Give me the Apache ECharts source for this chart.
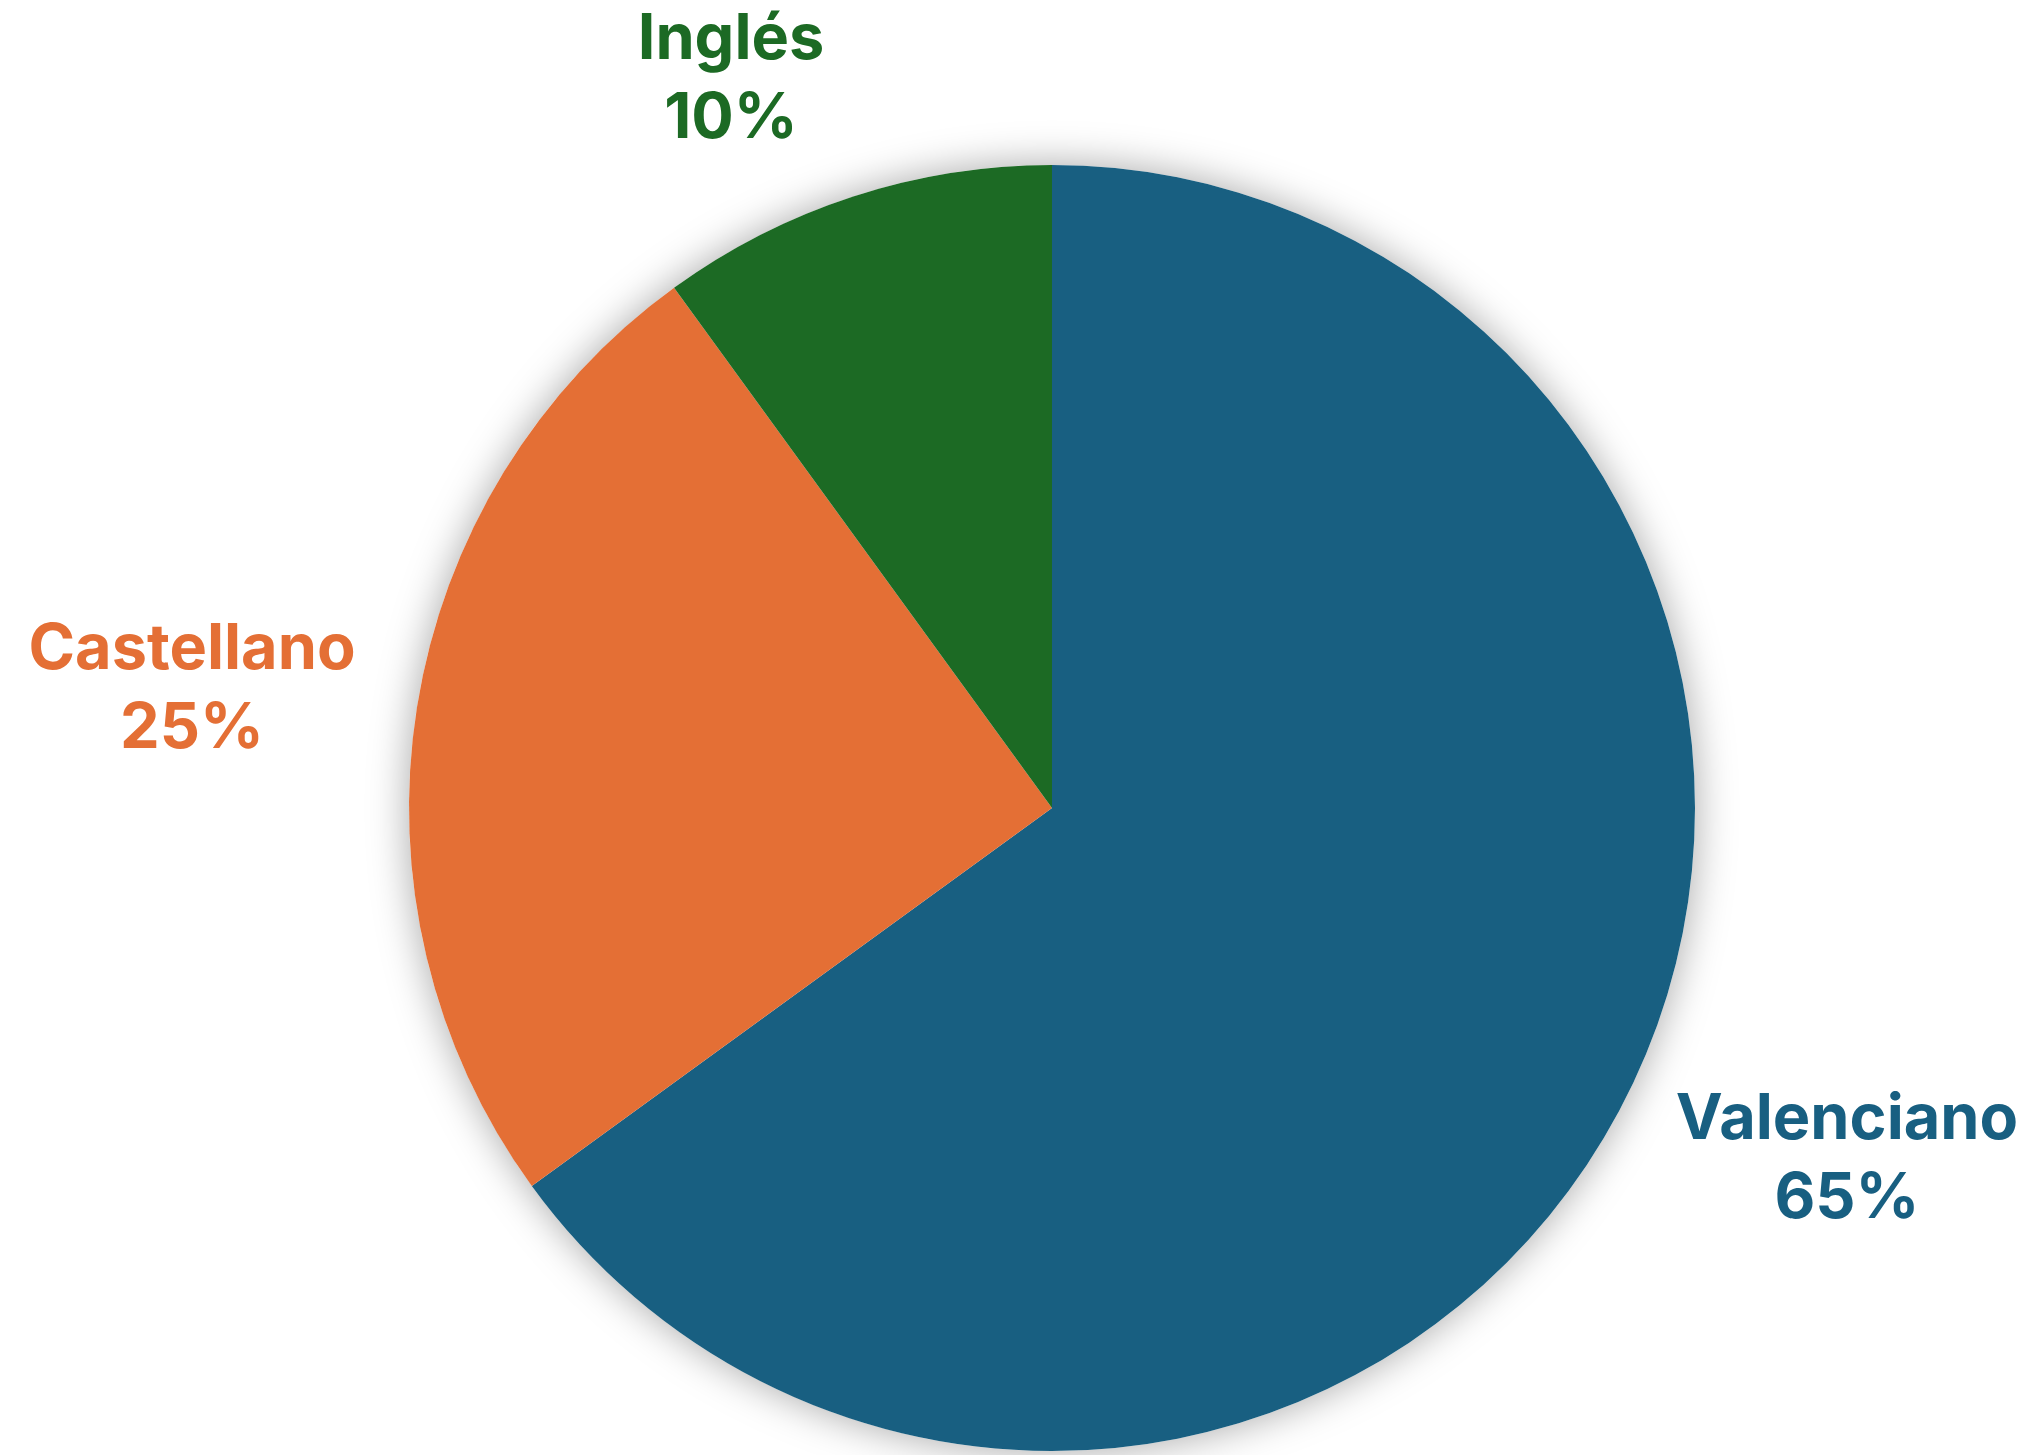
<!DOCTYPE html>
<html>
<head>
<meta charset="utf-8">
<script src="https://cdn.jsdelivr.net/npm/echarts@6/dist/echarts.min.js"></script>
<style>
html,body{margin:0;padding:0;background:#fff;}
#chart{width:2029px;height:1455px;}
</style>
</head>
<body>
<div id="chart"></div>
<script>
const categories = ['Valenciano', 'Castellano', 'Inglés'];
const values = [65, 25, 10];
const colors = ['#185F81', '#E46F35', '#1C6A24'];
const labelPos = [[1847, 1160], [192, 690], [731, 80]];

const chart = echarts.init(document.getElementById('chart'), null, {renderer: 'canvas'});
const FONT = 'Inter, "Liberation Sans", Arial, sans-serif';
chart.setOption({
  backgroundColor: '#ffffff',
  animation: false,
  series: [
    {
      type: 'pie',
      silent: true,
      center: [1052, 808],
      radius: 643,
      z: 1,
      label: {show: false},
      labelLine: {show: false},
      data: [{value: 1, itemStyle: {color: '#ffffff', shadowBlur: 40, shadowColor: 'rgba(0,0,0,0.35)'}}]
    },
    {
      type: 'pie',
      center: [1052, 808],
      radius: 643,
      startAngle: 90,
      clockwise: true,
      z: 2,
      itemStyle: {borderWidth: 0},
      label: {
        show: true,
        position: 'outside',
        formatter: '{b}\n{d}%',
        fontFamily: FONT,
        fontWeight: 'bold',
        fontSize: 63,
        lineHeight: 79,
        align: 'center'
      },
      labelLine: {show: false},
      labelLayout: function (p) {
        const pos = labelPos[p.dataIndex];
        return {x: pos[0], y: pos[1], align: 'center', verticalAlign: 'middle'};
      },
      data: categories.map((c, i) => ({
        name: c,
        value: values[i],
        itemStyle: {color: colors[i]},
        label: {color: colors[i]}
      }))
    }
  ]
});
</script>
</body>
</html>
